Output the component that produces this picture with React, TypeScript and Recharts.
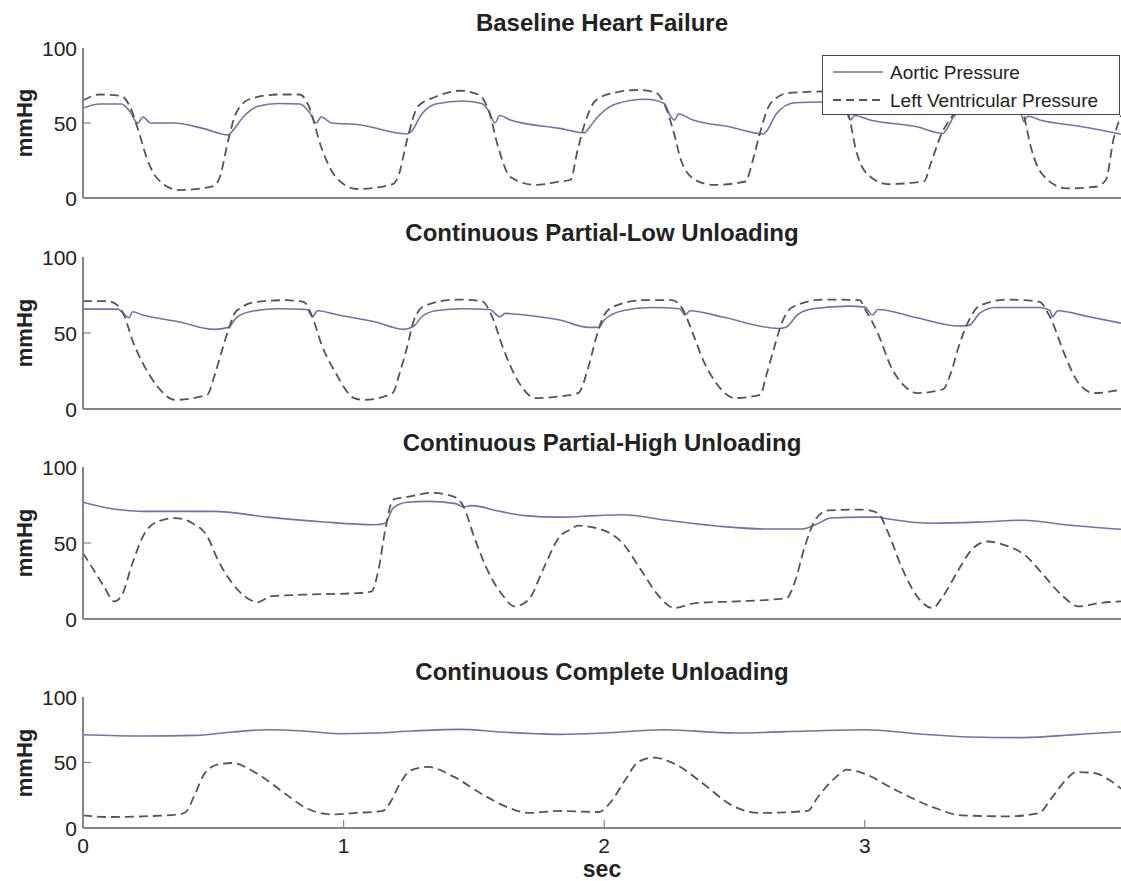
import React from "react";
import { LineChart, Line, XAxis, YAxis, Legend } from "recharts";

const FONT = "'Liberation Sans', Arial, Helvetica, sans-serif";
const FRAME = "#858585";
const TEXT = "#222";
const AORTIC_COLOR = "#6e72b0";
const LV_COLOR = "#555";

const SERIES_NAMES = ["Aortic Pressure", "Left Ventricular Pressure"];
const PANEL_TITLES = [
  "Baseline Heart Failure",
  "Continuous Partial-Low Unloading",
  "Continuous Partial-High Unloading",
  "Continuous Complete Unloading",
];
const Y_LABEL = "mmHg";
const X_LABEL = "sec";
const Y_TICKS = [0, 50, 100];
const X_TICKS = [0, 1, 2, 3];
const X_MAX = 3.983;

// Baseline heart failure
const baseAorticT = [0, 0.065, 0.147, 0.18, 0.21, 0.23, 0.26, 0.35, 0.46, 0.558, 0.57, 0.615, 0.668, 0.75, 0.832, 0.867, 0.895, 0.914, 0.955, 1.052, 1.244, 1.258, 1.3, 1.353, 1.46, 1.53, 1.558, 1.58, 1.6, 1.64, 1.83, 1.926, 1.94, 1.98, 2.05, 2.16, 2.23, 2.25, 2.27, 2.285, 2.34, 2.48, 2.61, 2.625, 2.66, 2.73, 2.83, 2.9, 2.93, 2.945, 2.96, 3.02, 3.2, 3.3, 3.315, 3.34, 3.4, 3.5, 3.57, 3.6, 3.61, 3.625, 3.68, 3.82, 3.983];
const baseAorticV = [60, 62.7, 62.7, 57.6, 49.8, 54, 50, 50, 46.4, 42, 44, 54, 61, 63, 62.7, 57.6, 50, 54, 50, 49, 42.7, 44, 56, 62.7, 64.7, 63, 57.6, 50, 55, 52, 46.4, 43.5, 46.4, 55, 63, 65.8, 63, 56, 52, 56, 52, 47.5, 42.7, 45, 56, 63.5, 64, 62, 57, 52, 55, 52, 47.5, 43, 46, 54, 61, 64, 62, 56, 51, 54.5, 51.6, 48, 42.5];
const baseLvT = [0, 0.065, 0.147, 0.18, 0.216, 0.243, 0.285, 0.367, 0.504, 0.525, 0.558, 0.586, 0.64, 0.75, 0.832, 0.867, 0.914, 0.97, 1.052, 1.189, 1.209, 1.244, 1.285, 1.353, 1.449, 1.517, 1.558, 1.593, 1.64, 1.737, 1.83, 1.87, 1.898, 1.926, 1.967, 2.035, 2.131, 2.2, 2.24, 2.268, 2.295, 2.35, 2.419, 2.542, 2.57, 2.597, 2.638, 2.707, 2.84, 2.91, 2.94, 2.966, 3.007, 3.09, 3.227, 3.253, 3.295, 3.337, 3.4, 3.5, 3.57, 3.61, 3.637, 3.68, 3.775, 3.885, 3.925, 3.954, 3.983];
const baseLvV = [65, 69, 68, 61, 43, 27.5, 13, 5.3, 8, 14, 39, 56, 66, 69, 69, 61, 34, 14, 6, 9.3, 14, 39, 61, 67.5, 71.5, 69, 57.6, 34, 14, 8.7, 11, 12, 32, 50, 65, 70, 72, 70, 58.7, 43, 25, 12, 8.7, 11, 25, 43, 63, 70, 71, 68, 54, 32, 16.4, 9.3, 11, 23, 43, 55, 68, 71, 68, 55, 34, 16, 6.4, 7.5, 12, 39, 55];

// Continuous partial-low unloading
const lowAorticT = [0, 0.134, 0.155, 0.176, 0.19, 0.23, 0.367, 0.503, 0.558, 0.586, 0.64, 0.75, 0.86, 0.88, 0.9, 0.98, 1.12, 1.23, 1.27, 1.3, 1.353, 1.46, 1.56, 1.6, 1.62, 1.695, 1.83, 1.94, 1.98, 2.0, 2.07, 2.18, 2.29, 2.31, 2.33, 2.45, 2.67, 2.7, 2.74, 2.8, 2.94, 3.0, 3.03, 3.05, 3.2, 3.36, 3.4, 3.44, 3.5, 3.67, 3.71, 3.72, 3.74, 3.86, 3.983];
const lowAorticV = [65.7, 65.7, 62.9, 60, 64, 61.8, 57.4, 52.4, 53.7, 59.6, 64, 66, 65.5, 60.7, 64.6, 61.8, 57.4, 52.4, 54.6, 60.7, 64.6, 66, 65.5, 60.7, 62.9, 61.8, 58.5, 53.7, 53.7, 58.5, 64.6, 66.8, 66, 61.8, 64.6, 60.7, 53, 54, 61.8, 66, 67.7, 67, 61.8, 65.5, 60, 54.6, 55, 62.9, 66.8, 66.8, 65, 60.7, 64.6, 60.7, 56.5];
const lowLvT = [0, 0.093, 0.134, 0.16, 0.19, 0.23, 0.285, 0.353, 0.477, 0.503, 0.53, 0.558, 0.586, 0.668, 0.778, 0.846, 0.88, 0.914, 0.97, 1.04, 1.08, 1.188, 1.215, 1.244, 1.27, 1.312, 1.435, 1.53, 1.57, 1.61, 1.667, 1.737, 1.83, 1.9, 1.94, 1.97, 2.0, 2.04, 2.15, 2.26, 2.3, 2.34, 2.38, 2.43, 2.5, 2.6, 2.62, 2.65, 2.68, 2.72, 2.84, 2.98, 3.0, 3.05, 3.1, 3.16, 3.2, 3.3, 3.33, 3.36, 3.4, 3.44, 3.55, 3.67, 3.71, 3.77, 3.82, 3.88, 3.983];
const lowLvV = [71, 71, 68, 60.7, 45, 30, 15, 6, 9.4, 21, 36.7, 52, 64, 70.5, 71.6, 70.5, 60.7, 43, 23.6, 7.2, 6, 10.5, 23.6, 41, 58.5, 68, 72, 71, 60.7, 41, 19, 7.2, 8.3, 10.5, 28, 47.6, 61.8, 67.7, 71.6, 71.6, 66, 49.8, 32, 17, 7.2, 9.4, 21, 39, 56, 66.8, 72, 71.6, 66, 49.8, 28, 13.8, 10.5, 13, 23.6, 41, 58.5, 68, 72, 70.5, 60.7, 34.5, 17, 10.5, 12.7];

// Continuous partial-high unloading
const highAorticT = [0, 0.093, 0.16, 0.23, 0.5, 0.71, 0.914, 1.12, 1.16, 1.19, 1.244, 1.325, 1.43, 1.46, 1.49, 1.6, 1.695, 1.83, 1.97, 2.07, 2.24, 2.44, 2.62, 2.76, 2.81, 2.87, 2.99, 3.05, 3.09, 3.26, 3.47, 3.61, 3.77, 3.983];
const highAorticV = [76.8, 73, 71.5, 70.8, 70.8, 67, 64, 62, 63, 73, 76.8, 77.4, 75.9, 73.7, 74.6, 70.8, 68, 67, 68, 68.6, 65, 61, 59.2, 59.2, 62, 66.4, 67, 67, 65.8, 63, 64, 65, 62, 59];
const highLvT = [0, 0.04, 0.08, 0.12, 0.147, 0.19, 0.23, 0.285, 0.353, 0.42, 0.477, 0.517, 0.572, 0.64, 0.668, 0.723, 0.846, 1.05, 1.106, 1.134, 1.16, 1.19, 1.257, 1.34, 1.42, 1.46, 1.5, 1.558, 1.613, 1.655, 1.71, 1.765, 1.83, 1.87, 1.9, 1.99, 2.07, 2.14, 2.21, 2.27, 2.35, 2.51, 2.7, 2.73, 2.77, 2.81, 2.86, 2.99, 3.05, 3.09, 3.14, 3.2, 3.26, 3.3, 3.36, 3.41, 3.47, 3.53, 3.62, 3.69, 3.76, 3.82, 3.9, 3.983];
const highLvV = [43.4, 32.5, 21.5, 11.6, 15, 36.8, 54.4, 64, 66.4, 63, 54.4, 39, 23.7, 12.7, 11, 15, 16, 17, 18, 32.5, 58.8, 78.5, 80.7, 83, 80.7, 74, 54.4, 30, 15, 8.3, 12.7, 32.5, 54.4, 58.8, 61.4, 58.8, 50, 32.5, 15, 7.2, 10.5, 11.6, 13.8, 23.7, 47.8, 65.4, 71.5, 72, 69.7, 56.6, 34.6, 15, 7.2, 15, 32.5, 45.6, 51, 49, 41.2, 28, 15, 8.3, 10.5, 11.6];

// Continuous complete unloading
const fullAorticT = [0, 0.23, 0.435, 0.573, 0.71, 0.846, 0.98, 1.12, 1.26, 1.45, 1.6, 1.74, 1.83, 2.0, 2.23, 2.5, 2.78, 3.0, 3.2, 3.4, 3.61, 3.82, 3.983];
const fullAorticV = [71.2, 70.2, 70.7, 73.3, 75, 74, 72, 72.5, 74, 75.3, 73.3, 72, 71.5, 72.5, 75, 72.5, 74, 75, 72, 69.5, 69, 71.5, 73.5];
const fullLvT = [0, 0.093, 0.23, 0.367, 0.394, 0.43, 0.466, 0.52, 0.573, 0.668, 0.777, 0.86, 0.955, 1.05, 1.15, 1.176, 1.216, 1.257, 1.325, 1.42, 1.53, 1.627, 1.71, 1.83, 1.98, 2.02, 2.08, 2.13, 2.19, 2.27, 2.38, 2.49, 2.59, 2.78, 2.82, 2.89, 2.93, 2.99, 3.12, 3.26, 3.37, 3.55, 3.67, 3.71, 3.77, 3.81, 3.88, 3.94, 3.983];
const fullLvV = [9.7, 8.4, 8.9, 10.4, 12.2, 26, 41.5, 48.6, 49.6, 41.5, 26, 14.8, 10.4, 11.5, 13, 18.6, 33.8, 44, 46.6, 39.4, 26, 16, 11.5, 13, 12.2, 18.6, 36.4, 50.4, 53.7, 49, 33.8, 17.3, 11.5, 13, 23.7, 39, 44.5, 42, 28.8, 16, 9.7, 8.9, 11.5, 21, 36.4, 42.7, 42, 36.4, 30];

const zip = (t: number[], v: number[]) => t.map((x, i) => ({ t: x, v: v[i] }));

// plot box top/height in page pixels, title centre line
const panels = [
  { title: PANEL_TITLES[0], top: 48, height: 150, titleY: 23, aortic: zip(baseAorticT, baseAorticV), lv: zip(baseLvT, baseLvV), legend: true, xAxis: false },
  { title: PANEL_TITLES[1], top: 257, height: 152, titleY: 233, aortic: zip(lowAorticT, lowAorticV), lv: zip(lowLvT, lowLvV), legend: false, xAxis: false },
  { title: PANEL_TITLES[2], top: 467, height: 152, titleY: 443, aortic: zip(highAorticT, highAorticV), lv: zip(highLvT, highLvV), legend: false, xAxis: false },
  { title: PANEL_TITLES[3], top: 697, height: 131, titleY: 672, aortic: zip(fullAorticT, fullAorticV), lv: zip(fullLvT, fullLvV), legend: false, xAxis: true },
];

const WIDTH = 1121;
const LEFT = 83;
const MT = 14;

const LeftTick = (props: any) => {
  const { x, y, payload } = props;
  const v = payload.value;
  return (
    <g>
      {v !== 0 && v !== 100 && <line x1={x} x2={x + 8} y1={y} y2={y} stroke={FRAME} strokeWidth={1.2} />}
      <text x={x - 6} y={y} dy="0.36em" textAnchor="end" fontFamily={FONT} fontSize={21} fill={TEXT}>
        {v}
      </text>
    </g>
  );
};

const RightTick = (props: any) => {
  const { x, y, payload } = props;
  if (payload.value !== 50) return <g />;
  return <line x1={x - 8} x2={x} y1={y} y2={y} stroke={FRAME} strokeWidth={1.2} />;
};

const BottomTick = (props: any) => {
  const { x, y, payload } = props;
  const v = payload.value;
  return (
    <g>
      {v !== 0 && <line x1={x} x2={x} y1={y} y2={y - 8} stroke={FRAME} strokeWidth={1.2} />}
      <text x={x} y={y + 17} dy="0.36em" textAnchor="middle" fontFamily={FONT} fontSize={21} fill={TEXT}>
        {v}
      </text>
    </g>
  );
};

const TopTick = (props: any) => {
  const { x, y, payload } = props;
  if (payload.value === 0) return <g />;
  return <line x1={x} x2={x} y1={y} y2={y + 8} stroke={FRAME} strokeWidth={1.2} />;
};

const LegendBox = () => (
  <div style={{ width: 298, height: 60, boxSizing: "border-box", border: "1px solid #444", background: "#fff" }}>
    <svg width={296} height={58} style={{ display: "block" }}>
      <line x1={10} x2={60} y1={16} y2={16} stroke={AORTIC_COLOR} strokeWidth={1.6} />
      <line x1={10} x2={60} y1={44} y2={44} stroke={LV_COLOR} strokeWidth={1.8} strokeDasharray="8 5" />
      <text x={67} y={16} dy="0.36em" fontFamily={FONT} fontSize={19} fill={TEXT}>{SERIES_NAMES[0]}</text>
      <text x={67} y={44} dy="0.36em" fontFamily={FONT} fontSize={19} fill={TEXT}>{SERIES_NAMES[1]}</text>
    </svg>
  </div>
);

function Panel({ p }: { p: (typeof panels)[number] }) {
  const bottomH = p.xAxis ? 34 : 16;
  const chartTop = p.top - MT;
  const h = MT + p.height + bottomH;
  return (
    <div style={{ position: "absolute", left: 0, top: chartTop }}>
      <LineChart width={WIDTH} height={h} margin={{ top: MT, right: 0, bottom: 0, left: 0 }}>
        <XAxis
          type="number"
          dataKey="t"
          domain={[0, X_MAX]}
          ticks={X_TICKS}
          interval={0}
          height={bottomH}
          allowDataOverflow
          axisLine={{ stroke: FRAME, strokeWidth: 2 }}
          tickLine={false}
          tickSize={0}
          tickMargin={0}
          tick={p.xAxis ? BottomTick : false}
        />
        <XAxis
          xAxisId="top"
          orientation="top"
          type="number"
          dataKey="t"
          domain={[0, X_MAX]}
          ticks={X_TICKS}
          interval={0}
          height={0}
          allowDataOverflow
          axisLine={{ stroke: FRAME, strokeWidth: 2 }}
          tickLine={false}
          tickSize={0}
          tickMargin={0}
          tick={p.xAxis ? TopTick : false}
        />
        <YAxis
          type="number"
          domain={[0, 100]}
          ticks={Y_TICKS}
          interval={0}
          width={LEFT}
          allowDataOverflow
          axisLine={{ stroke: FRAME, strokeWidth: 2 }}
          tickLine={false}
          tickSize={0}
          tickMargin={0}
          tick={LeftTick}
        />
        <YAxis
          yAxisId="right"
          orientation="right"
          type="number"
          domain={[0, 100]}
          ticks={Y_TICKS}
          interval={0}
          width={0}
          axisLine={false}
          tickLine={false}
          tickSize={0}
          tickMargin={0}
          tick={RightTick}
        />
        <Line
          data={p.aortic}
          dataKey="v"
          name={SERIES_NAMES[0]}
          type="monotone"
          stroke={AORTIC_COLOR}
          strokeWidth={1.6}
          dot={false}
          activeDot={false}
          isAnimationActive={false}
        />
        <Line
          data={p.lv}
          dataKey="v"
          name={SERIES_NAMES[1]}
          type="monotone"
          stroke={LV_COLOR}
          strokeWidth={1.8}
          strokeDasharray="9 5"
          dot={false}
          activeDot={false}
          isAnimationActive={false}
        />
        {p.legend && (
          <Legend
            layout="horizontal"
            verticalAlign="middle"
            align="center"
            content={LegendBox}
            wrapperStyle={{ left: 822, top: 55 - chartTop, width: 298, height: 60 }}
          />
        )}
      </LineChart>
      <div
        style={{
          position: "absolute",
          left: LEFT,
          width: WIDTH - LEFT,
          top: p.titleY - chartTop - 12,
          textAlign: "center",
          fontFamily: FONT,
          fontWeight: "bold",
          fontSize: 24,
          lineHeight: "24px",
          color: TEXT,
        }}
      >
        {p.title}
      </div>
      <div
        style={{
          position: "absolute",
          left: 25,
          top: MT + p.height / 2,
          transform: "translate(-50%, -50%) rotate(-90deg)",
          whiteSpace: "nowrap",
          fontFamily: FONT,
          fontWeight: "bold",
          fontSize: 22,
          lineHeight: "22px",
          color: TEXT,
        }}
      >
        {Y_LABEL}
      </div>
    </div>
  );
}

export default function App() {
  return (
    <div style={{ position: "absolute", left: 0, top: 0, width: WIDTH, height: 881, background: "#fff" }}>
      {panels.map((p) => (
        <Panel key={p.title} p={p} />
      ))}
      <div
        style={{
          position: "absolute",
          left: LEFT,
          width: WIDTH - LEFT,
          top: 871 - 13.5,
          textAlign: "center",
          fontFamily: FONT,
          fontWeight: "bold",
          fontSize: 23,
          lineHeight: "23px",
          color: TEXT,
        }}
      >
        {X_LABEL}
      </div>
    </div>
  );
}
